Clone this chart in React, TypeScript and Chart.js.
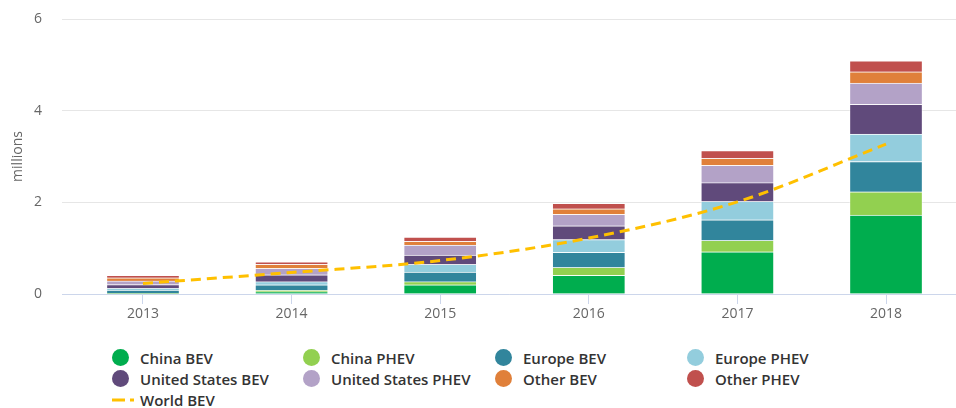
import React, { useEffect, useRef } from "react";
import { Chart, registerables } from "chart.js";

Chart.register(...registerables);

const categories = ["2013", "2014", "2015", "2016", "2017", "2018"];
const chinaBEV = [0.01, 0.05, 0.2, 0.41, 0.92, 1.72];
const chinaPHEV = [0.005, 0.03, 0.07, 0.17, 0.25, 0.51];
const europeBEV = [0.07, 0.12, 0.21, 0.33, 0.45, 0.66];
const europePHEV = [0.04, 0.07, 0.17, 0.28, 0.4, 0.6];
const usBEV = [0.08, 0.15, 0.2, 0.3, 0.41, 0.65];
const usPHEV = [0.08, 0.14, 0.22, 0.25, 0.38, 0.46];
const otherBEV = [0.07, 0.09, 0.08, 0.12, 0.15, 0.25];
const otherPHEV = [0.05, 0.05, 0.09, 0.12, 0.17, 0.24];
const worldBEV = [0.23, 0.47, 0.73, 1.22, 2.01, 3.27];
const yTicks = [0, 2, 4, 6];

const barSeries = [
  { name: "China BEV", data: chinaBEV, color: "#00ad4e" },
  { name: "China PHEV", data: chinaPHEV, color: "#92d050" },
  { name: "Europe BEV", data: europeBEV, color: "#31859c" },
  { name: "Europe PHEV", data: europePHEV, color: "#93cddd" },
  { name: "United States BEV", data: usBEV, color: "#604a7b" },
  { name: "United States PHEV", data: usPHEV, color: "#b3a2c7" },
  { name: "Other BEV", data: otherBEV, color: "#e0803a" },
  { name: "Other PHEV", data: otherPHEV, color: "#c0504d" },
];
const lineSeries = { name: "World BEV", data: worldBEV, color: "#ffc000" };

const FONT = "'Open Sans', sans-serif";

export default function App() {
  const ref = useRef<HTMLCanvasElement | null>(null);

  useEffect(() => {
    document.body.style.margin = "0";
    const ctx = ref.current!;
    const chart = new Chart(ctx, {
      type: "bar",
      data: {
        datasets: [
          ...barSeries.map((s) => ({
            type: "bar" as const,
            label: s.name,
            data: s.data.map((v, i) => ({ x: i, y: v })),
            backgroundColor: s.color,
            borderColor: "rgba(255,255,255,0.45)",
            borderWidth: 1,
            barThickness: 73,
            order: 1,
          })),
          {
            type: "line" as const,
            label: lineSeries.name,
            data: lineSeries.data.map((v, i) => ({ x: i, y: v })),
            borderColor: lineSeries.color,
            borderWidth: 3,
            borderDash: [10, 6],
            pointRadius: 0,
            fill: false,
            cubicInterpolationMode: "monotone" as const,
            order: 0,
          },
        ] as any,
      },
      options: {
        animation: false,
        responsive: false,
        maintainAspectRatio: false,
        layout: { padding: { top: 19, left: 0, right: 0, bottom: 0 } },
        plugins: { legend: { display: false }, tooltip: { enabled: false } },
        scales: {
          x: {
            type: "linear",
            min: -0.545,
            max: 5.471,
            offset: false,
            stacked: true,
            afterBuildTicks: (scale: any) => {
              scale.ticks = categories.map((_, i) => ({ value: i }));
            },
            afterFit: (scale: any) => {
              scale.height = 36;
              scale.paddingLeft = 0;
              scale.paddingRight = 0;
            },
            ticks: {
              callback: (v: any) => categories[v as number] ?? "",
              color: "#666666",
              font: { family: FONT, size: 14 },
              padding: 2,
              maxRotation: 0,
              autoSkip: false,
            },
            grid: {
              display: true,
              offset: false,
              drawOnChartArea: false,
              drawTicks: true,
              tickLength: 10,
              color: "#ccd6eb",
            },
            border: { display: true, color: "#ccd6eb", width: 1 },
          },
          y: {
            stacked: true,
            min: 0,
            max: 6,
            afterBuildTicks: (scale: any) => {
              scale.ticks = yTicks.map((v) => ({ value: v }));
            },
            afterFit: (scale: any) => {
              scale.width = 62;
              scale.paddingTop = 0;
              scale.paddingBottom = 0;
            },
            ticks: {
              color: "#666666",
              font: { family: FONT, size: 14 },
              padding: 20,
            },
            grid: { color: "#e6e6e6", drawTicks: false },
            border: { display: false },
            title: {
              display: true,
              text: "millions",
              color: "#666666",
              font: { family: FONT, size: 14 },
              padding: { top: 10, bottom: 0 },
            },
          },
        },
      },
    });
    return () => chart.destroy();
  }, []);

  const legendItems = [
    ...barSeries.map((s) => ({ name: s.name, color: s.color, line: false })),
    { name: lineSeries.name, color: lineSeries.color, line: true },
  ];

  return (
    <div style={{ position: "absolute", left: 0, top: 0, width: 956, height: 408, background: "#fff", overflow: "hidden" }}>
      <canvas ref={ref} width={956} height={330} style={{ display: "block", width: 956, height: 330 }} />
      <div
        style={{
          position: "absolute",
          left: 112,
          top: 347,
          display: "grid",
          gridTemplateColumns: "191px 192px 192px 192px",
          gridAutoRows: "21px",
          fontFamily: FONT,
          fontSize: 15,
          fontWeight: 600,
          color: "#333333",
        }}
      >
        {legendItems.map((it) => (
          <div key={it.name} style={{ display: "flex", alignItems: "center", height: 21, whiteSpace: "nowrap" }}>
            {it.line ? (
              <svg width={22} height={16} style={{ marginRight: 6, flex: "none" }}>
                <line x1={0} y1={8} x2={22} y2={8} stroke={it.color} strokeWidth={3} strokeDasharray="13,5" />
              </svg>
            ) : (
              <span
                style={{
                  display: "inline-block",
                  width: 17,
                  height: 17,
                  borderRadius: "50%",
                  background: it.color,
                  marginRight: 11,
                  flex: "none",
                }}
              />
            )}
            <span>{it.name}</span>
          </div>
        ))}
      </div>
    </div>
  );
}
